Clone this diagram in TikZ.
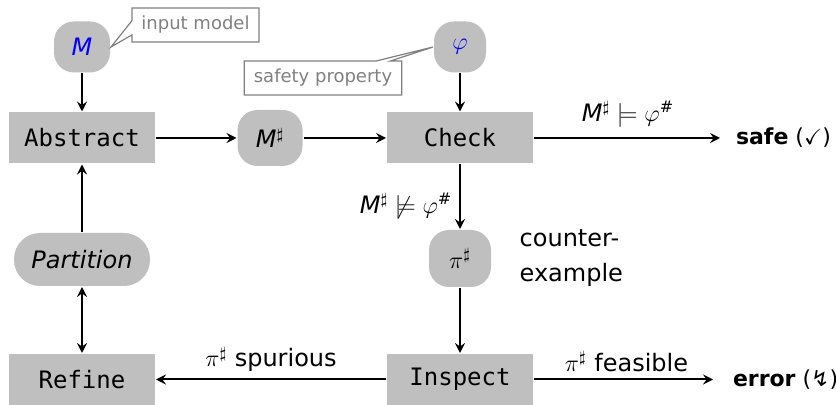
\documentclass[tikz,border=0pt]{standalone}
\usepackage{amssymb}
\usepackage{fontspec}
\setmainfont{DejaVu Sans}
\setmonofont{DejaVu Sans Mono}
\usetikzlibrary{arrows.meta}
\usetikzlibrary{shapes}
\usetikzlibrary{shapes.callouts}

\begin{document}
\begin{tikzpicture}[x=0.5pt, y=-0.5pt, >={Stealth[length=5pt, width=5pt, inset=1.8pt]},
        line width=1pt, font=\fontsize{12}{17.5}\selectfont,
        stage/.style={fill=gray!50, minimum width=73pt, minimum height=25.5pt,
            font=\ttfamily\fontsize{12}{14}\selectfont},
        datum/.style={fill=gray!50, rounded corners=10pt},
        note/.style={rectangle callout, draw=gray, text=gray, line width=0.6pt,
            fill=white, font=\fontsize{9}{11}\selectfont,
            minimum height=17pt, inner xsep=4.75pt},
        result/.style={anchor=west, inner xsep=0.5pt, inner ysep=2pt,
            font=\fontsize{11}{13}\selectfont}]
        \useasboundingbox (0, 0) rectangle (836, 405);

        \node[stage] (abstract) at (82, 138) {Abstract};
        \node[stage] (check) at (460, 138) {Check};
        \node[stage] (inspect) at (460, 379.5) {Inspect};
        \node[stage] (refine) at (82, 379.5) {Refine};

        \node[datum, minimum width=28pt, minimum height=25.5pt] (model) at (82, 47)
            {\textcolor{blue}{\textit{M}}};
        \node[datum, minimum width=26pt, minimum height=25.5pt] (prop) at (460, 47)
            {\textcolor{blue}{$\varphi$}};
        \node[datum, minimum width=32.5pt, minimum height=28pt] (absmodel) at (270, 138)
            {\textit{M}$^\sharp$};
        \node[datum, minimum width=31pt, minimum height=28.5pt] (cex) at (460, 258.5)
            {$\pi^\sharp$};
        \node[datum, minimum width=68pt, minimum height=26.5pt, rounded corners=13pt,
            font=\itshape\fontsize{12}{14}\selectfont] (partition) at (82, 259.5) {Partition};

        \node[result] (safe) at (734, 138) {\textbf{safe} ($\checkmark$)};
        \node[result] (error) at (731, 379.5) {\textbf{error} (↯)};
        \node[anchor=west, align=left] (cexnote) at (512, 258) {counter-\\example};

        \node[note, callout absolute pointer={(model.east)}] (modelnote) at (195.5, 25)
            {input model};
        \node[note, callout absolute pointer={(prop.west)}] (propnote) at (323, 78)
            {safety property};

        \draw[->] (model) -- (abstract);
        \draw[->] (prop) -- (check);
        \draw[->] (abstract) -- (absmodel);
        \draw[->] (absmodel) -- (check);
        \draw[->, shorten >=7pt] (check) -- node[above, yshift=1.5pt, xshift=-3pt]
            {\textit{M}$^\sharp \models \varphi^{\#}$} (safe);
        \draw[->] (check) -- node[left, pos=0.65]
            {\textit{M}$^\sharp \not\models \varphi^{\#}$} (cex);
        \draw[->] (cex) -- (inspect);
        \draw[->, shorten >=9pt] (inspect) -- node[above, xshift=-3pt] {$\pi^\sharp$ feasible} (error);
        \draw[->] (inspect) -- node[above] {$\pi^\sharp$ spurious} (refine);
        \draw[<->] (partition) -- (refine);
        \draw[->] (partition) -- (abstract);
    \end{tikzpicture}
\end{document}
